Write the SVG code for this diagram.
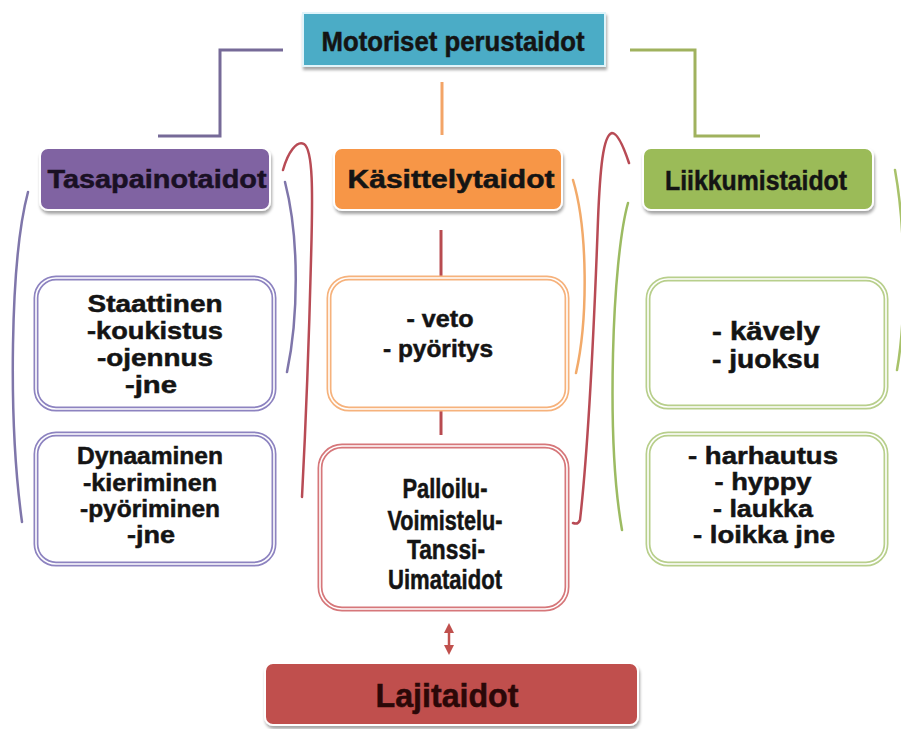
<svg xmlns="http://www.w3.org/2000/svg" width="901" height="729" viewBox="0 0 901 729">
<defs>
<style>
.t{font-family:"Liberation Sans",Arial,sans-serif;font-weight:bold;text-anchor:middle;fill:#141414;stroke:#141414;stroke-width:0.5}
.h{stroke:#ffffff;stroke-width:2}
.c{fill:none;stroke-width:3}
.b{fill:none;stroke-width:2.5;stroke-linecap:round}
.o{fill:#ffffff;stroke-width:5}
.i{fill:none;stroke:#ffffff;stroke-width:1.6}
</style>
<filter id="sh" x="-10%" y="-20%" width="120%" height="160%">
<feDropShadow dx="1" dy="3" stdDeviation="1.5" flood-color="#000" flood-opacity="0.35"/>
</filter>
<marker id="ah" viewBox="0 0 10 10" refX="5" refY="5" markerWidth="4" markerHeight="4" orient="auto-start-reverse">
<path d="M0,0 L10,5 L0,10 z" fill="#c0504d"/>
</marker>
</defs>
<rect width="901" height="729" fill="#ffffff"/>

<g id="connectors">
<path class="c" d="M283,50 H220 V136 H158" stroke="#766a98"/>
<path class="c" d="M442,82 V135" stroke="#f3a467"/>
<path class="c" d="M630,50 H695 V136 H760" stroke="#a0b25e"/>
<path class="c" d="M441,230 V277" stroke="#b84b50"/>
<path class="c" d="M441,410 V435" stroke="#b84b50"/>
<path class="b" d="M28,192 C10,260 8,420 22,522" stroke="#7f76aa"/>
<path class="b" d="M285,182 C300,240 298,320 287,372" stroke="#7f76aa"/>
<path class="b" d="M283,170 C288,152 297,140 304,144 C313,150 313,190 311,260 C309,340 306,420 302,497" stroke="#b84b55"/>
<path class="b" d="M573,180 C588,230 588,320 576,373" stroke="#f2aa6a"/>
<path class="b" d="M629,163 C624,148 618,133 612,133 C603,135 600,170 598,220 C594,330 588,450 580,520 Q578,525 573,523" stroke="#b84b55"/>
<path class="b" d="M628,203 C612,260 606,440 622,530" stroke="#9cbb62"/>
<path class="b" d="M895,170 C906,230 906,320 897,370" stroke="#a8c26a"/>
<path d="M449,628 V650" stroke="#c0504d" stroke-width="2.5" marker-start="url(#ah)" marker-end="url(#ah)"/>
</g>

<g id="motoriset">
<rect x="303" y="13" width="302" height="53" fill="#4bacc6" stroke="#e0f4fa" stroke-width="2" filter="url(#sh)"/>
<text class="t" x="453" y="51" font-size="28" textLength="263" lengthAdjust="spacingAndGlyphs">Motoriset perustaidot</text>
</g>

<g id="tasapaino">
<rect class="h" x="40" y="148" width="230" height="62" rx="8" fill="#8064a2" filter="url(#sh)"/>
<text class="t" x="157" y="188" font-size="25" textLength="219" lengthAdjust="spacingAndGlyphs" style="fill:#1a1024;stroke:#1a1024">Tasapainotaidot</text>
</g>

<g id="kasittely">
<rect class="h" x="334" y="148" width="228" height="62" rx="8" fill="#f79646" filter="url(#sh)"/>
<text class="t" x="451" y="188" font-size="25" textLength="207" lengthAdjust="spacingAndGlyphs">Käsittelytaidot</text>
</g>

<g id="liikkumis">
<rect class="h" x="643" y="148" width="230" height="62" rx="8" fill="#9bbb59" filter="url(#sh)"/>
<text class="t" x="756" y="190" font-size="28" textLength="182" lengthAdjust="spacingAndGlyphs">Liikkumistaidot</text>
</g>

<g id="staattinen">
<rect class="o" x="36" y="278" width="238" height="131" rx="20" stroke="#8d83c0"/>
<rect class="i" x="36" y="278" width="238" height="131" rx="20"/>
<text class="t" x="155" y="312" font-size="24" textLength="135" lengthAdjust="spacingAndGlyphs">Staattinen</text>
<text class="t" x="155" y="339" font-size="24" textLength="136" lengthAdjust="spacingAndGlyphs">-koukistus</text>
<text class="t" x="155" y="366" font-size="24" textLength="116" lengthAdjust="spacingAndGlyphs">-ojennus</text>
<text class="t" x="151" y="393" font-size="24" textLength="52" lengthAdjust="spacingAndGlyphs">-jne</text>
</g>

<g id="dynaaminen">
<rect class="o" x="36" y="434" width="238" height="130" rx="20" stroke="#8d83c0"/>
<rect class="i" x="36" y="434" width="238" height="130" rx="20"/>
<text class="t" x="150" y="464" font-size="23" textLength="146" lengthAdjust="spacingAndGlyphs">Dynaaminen</text>
<text class="t" x="150" y="491" font-size="23" textLength="134" lengthAdjust="spacingAndGlyphs">-kieriminen</text>
<text class="t" x="150" y="517" font-size="23" textLength="140" lengthAdjust="spacingAndGlyphs">-pyöriminen</text>
<text class="t" x="151" y="543" font-size="23" textLength="48" lengthAdjust="spacingAndGlyphs">-jne</text>
</g>

<g id="veto">
<rect class="o" x="329" y="278" width="238" height="131" rx="20" stroke="#f6b27c"/>
<rect class="i" x="329" y="278" width="238" height="131" rx="20"/>
<text class="t" x="440" y="327" font-size="24" textLength="67" lengthAdjust="spacingAndGlyphs">- veto</text>
<text class="t" x="438" y="357" font-size="24" textLength="110" lengthAdjust="spacingAndGlyphs">- pyöritys</text>
</g>

<g id="palloilu">
<rect class="o" x="320" y="446" width="247" height="163" rx="22" stroke="#d6777a"/>
<rect class="i" x="320" y="446" width="247" height="163" rx="22"/>
<text class="t" x="445" y="498" font-size="27" textLength="85" lengthAdjust="spacingAndGlyphs">Palloilu-</text>
<text class="t" x="445" y="530" font-size="27" textLength="115" lengthAdjust="spacingAndGlyphs">Voimistelu-</text>
<text class="t" x="446" y="559" font-size="27" textLength="78" lengthAdjust="spacingAndGlyphs">Tanssi-</text>
<text class="t" x="445" y="589" font-size="27" textLength="114" lengthAdjust="spacingAndGlyphs">Uimataidot</text>
</g>

<g id="kavely">
<rect class="o" x="648" y="279" width="238" height="128" rx="20" stroke="#b8cf8c"/>
<rect class="i" x="648" y="279" width="238" height="128" rx="20"/>
<text class="t" x="766" y="340" font-size="25" textLength="108" lengthAdjust="spacingAndGlyphs">- kävely</text>
<text class="t" x="766" y="368" font-size="25" textLength="108" lengthAdjust="spacingAndGlyphs">- juoksu</text>
</g>

<g id="harhautus">
<rect class="o" x="648" y="434" width="238" height="130" rx="20" stroke="#b8cf8c"/>
<rect class="i" x="648" y="434" width="238" height="130" rx="20"/>
<text class="t" x="763" y="464" font-size="24" textLength="150" lengthAdjust="spacingAndGlyphs">- harhautus</text>
<text class="t" x="763" y="490" font-size="24" textLength="97" lengthAdjust="spacingAndGlyphs">- hyppy</text>
<text class="t" x="763" y="517" font-size="24" textLength="100" lengthAdjust="spacingAndGlyphs">- laukka</text>
<text class="t" x="764" y="543" font-size="24" textLength="142" lengthAdjust="spacingAndGlyphs">- loikka jne</text>
</g>

<g id="lajitaidot">
<rect class="h" x="265" y="663" width="373" height="62" rx="8" fill="#c0504d" filter="url(#sh)"/>
<text class="t" x="447" y="707" font-size="33" textLength="143" lengthAdjust="spacingAndGlyphs" style="fill:#2b0808;stroke:#2b0808">Lajitaidot</text>
</g>
</svg>
